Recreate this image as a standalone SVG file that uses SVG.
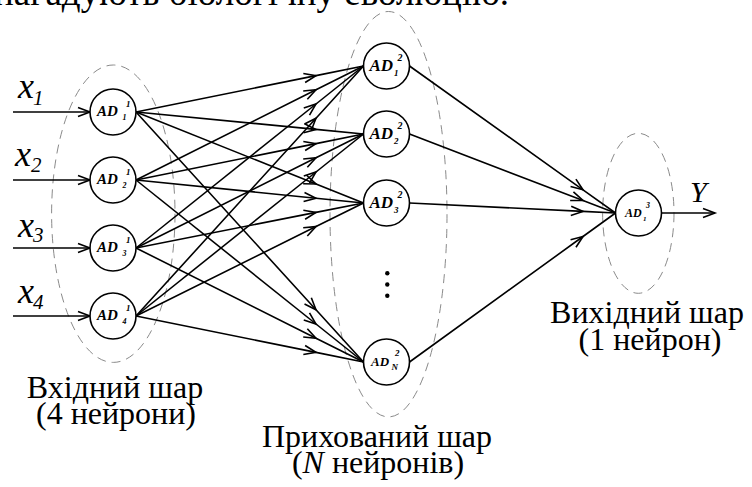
<svg xmlns="http://www.w3.org/2000/svg" width="752" height="487" viewBox="0 0 752 487">
<defs>
<marker id="arr" markerUnits="userSpaceOnUse" markerWidth="16" markerHeight="12" viewBox="-13 -6 15 12" refX="0" refY="0" orient="auto">
<path d="M-12,-4.6 L0,0 L-12,4.6" fill="none" stroke="#000" stroke-width="1.6"/>
</marker>
</defs>
<rect width="752" height="487" fill="#fff"/>
<text x="-6" y="5" font-size="37" font-family="Liberation Serif" style="font-family:'Liberation Serif',serif">нагадують біологічну еволюцію.</text>

<g id="layers" fill="none" stroke="#8a8a8a" stroke-width="1" stroke-dasharray="9 6">
<ellipse cx="113.3" cy="213.7" rx="61.7" ry="148.7"/>
<ellipse cx="388.5" cy="214.2" rx="58.5" ry="202.7"/>
<ellipse cx="638.3" cy="213.3" rx="35.7" ry="80"/>
</g>

<g id="connectors" fill="none" stroke="#000" stroke-width="1.6">
<line x1="13" y1="112" x2="90" y2="112" marker-end="url(#arr)"/>
<line x1="13" y1="180" x2="90" y2="180" marker-end="url(#arr)"/>
<line x1="13" y1="248" x2="90" y2="248" marker-end="url(#arr)"/>
<line x1="13" y1="316" x2="90" y2="316" marker-end="url(#arr)"/>
<path marker-mid="url(#arr)" d="M136,112 L316,75.6 L363.5,66"/>
<path marker-mid="url(#arr)" d="M136,112 L316,129.41 L363.5,134"/>
<path marker-mid="url(#arr)" d="M136,112 L316,184 L363.5,203"/>
<path marker-mid="url(#arr)" d="M136,112 L316,309.8 L363.5,362"/>
<path marker-mid="url(#arr)" d="M136,180 L316,89.8 L363.5,66"/>
<path marker-mid="url(#arr)" d="M136,180 L316,143.6 L363.5,134"/>
<path marker-mid="url(#arr)" d="M136,180 L316,198.2 L363.5,203"/>
<path marker-mid="url(#arr)" d="M136,180 L316,324 L363.5,362"/>
<path marker-mid="url(#arr)" d="M136,248 L316,104 L363.5,66"/>
<path marker-mid="url(#arr)" d="M136,248 L316,157.8 L363.5,134"/>
<path marker-mid="url(#arr)" d="M136,248 L316,212.4 L363.5,203"/>
<path marker-mid="url(#arr)" d="M136,248 L316,338.2 L363.5,362"/>
<path marker-mid="url(#arr)" d="M136,316 L316,118.2 L363.5,66"/>
<path marker-mid="url(#arr)" d="M136,316 L316,172 L363.5,134"/>
<path marker-mid="url(#arr)" d="M136,316 L316,226.59 L363.5,203"/>
<path marker-mid="url(#arr)" d="M136,316 L316,352.4 L363.5,362"/>
<path marker-mid="url(#arr)" d="M409.5,66 L583,189.8 L615.5,213"/>
<path marker-mid="url(#arr)" d="M409.5,134 L583,200.53 L615.5,213"/>
<path marker-mid="url(#arr)" d="M409.5,203 L583,211.42 L615.5,213"/>
<path marker-mid="url(#arr)" d="M409.5,362 L583,236.51 L615.5,213"/>
<line x1="661.5" y1="213" x2="715" y2="213" marker-end="url(#arr)"/>
</g>

<g id="inputs">
<text x="18" y="98" font-size="36" style="font-family:'Liberation Serif',serif;font-style:italic">x</text><text x="33" y="105" font-size="21" style="font-family:'Liberation Serif',serif;font-style:italic">1</text>
<text x="15" y="166" font-size="36" style="font-family:'Liberation Serif',serif;font-style:italic">x</text><text x="31" y="172" font-size="21" style="font-family:'Liberation Serif',serif;font-style:italic">2</text>
<text x="18" y="236.5" font-size="36" style="font-family:'Liberation Serif',serif;font-style:italic">x</text><text x="33" y="242" font-size="21" style="font-family:'Liberation Serif',serif;font-style:italic">3</text>
<text x="18" y="303" font-size="36" style="font-family:'Liberation Serif',serif;font-style:italic">x</text><text x="33" y="309" font-size="21" style="font-family:'Liberation Serif',serif;font-style:italic">4</text>
</g>

<g id="in1"><circle cx="113" cy="112" r="23" fill="#fff" stroke="#000" stroke-width="1.6"/>
<text x="97" y="116" font-size="15" style="font-family:'Liberation Serif',serif;font-weight:bold;font-style:italic">AD</text><text x="122.5" y="120" font-size="8" style="font-family:'Liberation Serif',serif;font-weight:bold;font-style:italic">1</text><text x="126" y="107" font-size="9" style="font-family:'Liberation Serif',serif;font-weight:bold;font-style:italic">1</text></g>
<g id="in2"><circle cx="113" cy="180" r="23" fill="#fff" stroke="#000" stroke-width="1.6"/>
<text x="97" y="184" font-size="15" style="font-family:'Liberation Serif',serif;font-weight:bold;font-style:italic">AD</text><text x="122.5" y="188" font-size="8" style="font-family:'Liberation Serif',serif;font-weight:bold;font-style:italic">2</text><text x="126" y="175" font-size="9" style="font-family:'Liberation Serif',serif;font-weight:bold;font-style:italic">1</text></g>
<g id="in3"><circle cx="113" cy="248" r="23" fill="#fff" stroke="#000" stroke-width="1.6"/>
<text x="97" y="252" font-size="15" style="font-family:'Liberation Serif',serif;font-weight:bold;font-style:italic">AD</text><text x="122.5" y="256" font-size="8" style="font-family:'Liberation Serif',serif;font-weight:bold;font-style:italic">3</text><text x="126" y="243" font-size="9" style="font-family:'Liberation Serif',serif;font-weight:bold;font-style:italic">1</text></g>
<g id="in4"><circle cx="113" cy="316" r="23" fill="#fff" stroke="#000" stroke-width="1.6"/>
<text x="97" y="320" font-size="15" style="font-family:'Liberation Serif',serif;font-weight:bold;font-style:italic">AD</text><text x="122.5" y="324" font-size="8" style="font-family:'Liberation Serif',serif;font-weight:bold;font-style:italic">4</text><text x="126" y="311" font-size="9" style="font-family:'Liberation Serif',serif;font-weight:bold;font-style:italic">1</text></g>

<g id="h1"><circle cx="386.5" cy="66" r="23" fill="#fff" stroke="#000" stroke-width="1.6"/>
<text x="369.5" y="71" font-size="17" style="font-family:'Liberation Serif',serif;font-weight:bold;font-style:italic">AD</text><text x="394" y="76" font-size="9" style="font-family:'Liberation Serif',serif;font-weight:bold;font-style:italic">1</text><text x="397.5" y="61" font-size="10" style="font-family:'Liberation Serif',serif;font-weight:bold;font-style:italic">2</text></g>
<g id="h2"><circle cx="386.5" cy="134" r="23" fill="#fff" stroke="#000" stroke-width="1.6"/>
<text x="369.5" y="139" font-size="17" style="font-family:'Liberation Serif',serif;font-weight:bold;font-style:italic">AD</text><text x="394" y="144" font-size="9" style="font-family:'Liberation Serif',serif;font-weight:bold;font-style:italic">2</text><text x="397.5" y="129" font-size="10" style="font-family:'Liberation Serif',serif;font-weight:bold;font-style:italic">2</text></g>
<g id="h3"><circle cx="386.5" cy="203" r="23" fill="#fff" stroke="#000" stroke-width="1.6"/>
<text x="369.5" y="208" font-size="17" style="font-family:'Liberation Serif',serif;font-weight:bold;font-style:italic">AD</text><text x="394" y="213" font-size="9" style="font-family:'Liberation Serif',serif;font-weight:bold;font-style:italic">3</text><text x="397.5" y="198" font-size="10" style="font-family:'Liberation Serif',serif;font-weight:bold;font-style:italic">2</text></g>
<g id="hN"><circle cx="386.5" cy="362" r="23" fill="#fff" stroke="#000" stroke-width="1.6"/>
<text x="371" y="366" font-size="13" style="font-family:'Liberation Serif',serif;font-weight:bold;font-style:italic">AD</text><text x="391.5" y="370" font-size="9" style="font-family:'Liberation Serif',serif;font-weight:bold;font-style:italic">N</text><text x="395" y="356" font-size="9" style="font-family:'Liberation Serif',serif;font-weight:bold;font-style:italic">2</text></g>
<g id="out"><circle cx="638.5" cy="213" r="23" fill="#fff" stroke="#000" stroke-width="1.6"/>
<text x="625" y="217" font-size="12" style="font-family:'Liberation Serif',serif;font-weight:bold;font-style:italic">AD</text><text x="643" y="221" font-size="7" style="font-family:'Liberation Serif',serif;font-weight:bold;font-style:italic">1</text><text x="646" y="208" font-size="8" style="font-family:'Liberation Serif',serif;font-weight:bold;font-style:italic">3</text></g>

<g id="dots" fill="#000">
<circle cx="387.3" cy="273.3" r="2.2"/>
<circle cx="387.3" cy="284.5" r="2.2"/>
<circle cx="387.3" cy="295.7" r="2.2"/>
</g>

<text x="690" y="201.5" font-size="30" style="font-family:'Liberation Serif',serif;font-style:italic">Y</text>

<g id="captions" text-anchor="middle">
<text x="115" y="398" font-size="32" style="font-family:'Liberation Serif',serif">Вхідний шар</text>
<text x="116" y="424" font-size="32" style="font-family:'Liberation Serif',serif">(4 нейрони)</text>
<text x="377" y="446.5" font-size="32" style="font-family:'Liberation Serif',serif">Прихований шар</text>
<text x="378" y="473" font-size="32" style="font-family:'Liberation Serif',serif">(<tspan style="font-style:italic">N</tspan> нейронів)</text>
<text x="647" y="323" font-size="32" style="font-family:'Liberation Serif',serif">Вихідний шар</text>
<text x="650" y="350" font-size="32" style="font-family:'Liberation Serif',serif">(1 нейрон)</text>
</g>
</svg>
